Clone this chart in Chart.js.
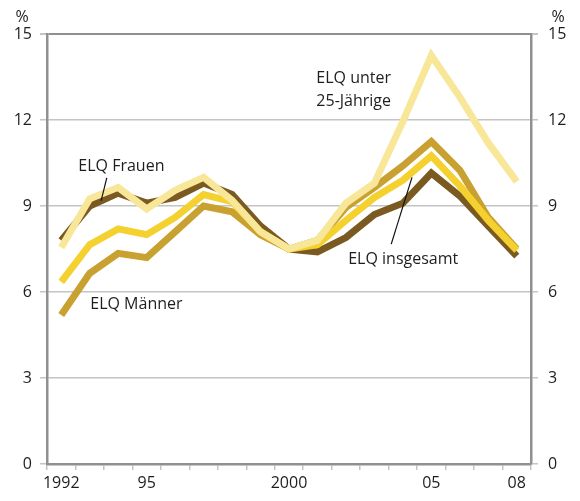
<!DOCTYPE html>
<html>
<head>
<meta charset="utf-8">
<script src="https://cdn.jsdelivr.net/npm/chart.js@4/dist/chart.umd.min.js"></script>
<style>
  html, body { margin:0; padding:0; background:#fff; }
  #wrap { width:580px; height:501px; position:relative; }
</style>
</head>
<body>
<div id="wrap"><canvas id="chart"></canvas></div>
<script>
// Data
const years = ['1992','1993','1994','1995','1996','1997','1998','1999','2000','2001','2002','2003','2004','2005','2006','2007','2008'];
const tickLabels = ['1992','','','95','','','','','2000','','','','','05','','','08'];
const yTicks = [0, 3, 6, 9, 12, 15];

const frauen    = [7.8, 9.0, 9.45, 9.1, 9.3, 9.8, 9.4, 8.3, 7.5, 7.4, 7.9, 8.7, 9.1, 10.15, 9.35, 8.3, 7.25];
const maenner   = [5.2, 6.65, 7.35, 7.2, 8.1, 9.0, 8.8, 8.0, 7.5, 7.8, 8.95, 9.65, 10.4, 11.25, 10.25, 8.6, 7.5];
const insgesamt = [6.35, 7.65, 8.2, 8.0, 8.6, 9.4, 9.15, 8.1, 7.5, 7.65, 8.5, 9.3, 9.9, 10.75, 9.7, 8.5, 7.45];
const unter25   = [7.55, 9.25, 9.65, 8.9, 9.55, 10.0, 9.2, 8.1, 7.5, 7.8, 9.1, 9.8, 11.95, 14.25, 12.8, 11.2, 9.85];

// Labels in data coordinates (x = category index)
const notes = [
    { text:'ELQ Frauen', x:0.6, y:10.39 },
    { text:'ELQ Männer', x:1.02, y:5.55 },
    { text:'ELQ unter', x:8.96, y:13.46 },
    { text:'25-Jährige', x:8.96, y:12.66 },
    { text:'ELQ insgesamt', x:10.08, y:7.15 }
];
const pointers = [
    { x1:1.6, y1:9.98, x2:1.4, y2:9.18 },
    { x1:12.32, y1:10.0, x2:11.59, y2:7.67 }
];

const FONT = '"Open Sans", sans-serif';
const textColor = '#1e1e1e';
const gridColor = '#c4c4c4';
const axisColor = '#909090';

const notesPlugin = {
    id:'notes',
    afterDatasetsDraw(chart) {
        const ctx = chart.ctx;
        const xs = chart.scales.x, ys = chart.scales.y;
        ctx.save();
        ctx.strokeStyle = '#111';
        ctx.lineWidth = 1.2;
        pointers.forEach(p => {
            ctx.beginPath();
            ctx.moveTo(xs.getPixelForValue(p.x1), ys.getPixelForValue(p.y1));
            ctx.lineTo(xs.getPixelForValue(p.x2), ys.getPixelForValue(p.y2));
            ctx.stroke();
        });
        ctx.fillStyle = textColor;
        ctx.font = '16px ' + FONT;
        ctx.textAlign = 'left';
        ctx.textBaseline = 'middle';
        notes.forEach(n => {
            ctx.fillText(n.text, xs.getPixelForValue(n.x), ys.getPixelForValue(n.y));
        });
        // percent signs above both value axes
        ctx.textAlign = 'center';
        ctx.fillText('%', 22, 17);
        ctx.fillText('%', 558, 17);
        ctx.restore();
    }
};

// lower order is drawn on top
function line(label, data, color, order) {
    return {
        label: label,
        data: data,
        order: order,
        borderColor: color,
        backgroundColor: color,
        borderWidth: 7,
        pointRadius: 0,
        tension: 0,
        borderJoinStyle: 'miter',
        borderCapStyle: 'butt',
        fill: false
    };
}

const yScale = (pos) => ({
    type:'linear',
    position: pos,
    min:0, max:15,
    afterBuildTicks: s => { s.ticks = yTicks.map(v => ({ value:v })); },
    afterFit: s => { s.width = pos === 'left' ? 47 : 49; },
    border: { display:true, color:axisColor, width:2.5 },
    grid: {
        display:true,
        drawOnChartArea: pos === 'left',
        color: c => (c.tick && c.tick.value === 15) ? axisColor : gridColor,
        lineWidth: c => (c.tick && c.tick.value === 15) ? 2 : 1.5,
        tickColor: gridColor,
        tickLength: 7
    },
    ticks: {
        color:textColor,
        padding: pos === 'left' ? 8 : 10,
        font:{ family:FONT, size:16 }
    }
});

const chart = new Chart(document.getElementById('chart'), {
    type:'line',
    data:{
        labels: years,
        datasets:[
            line('ELQ Frauen', frauen, '#7b5a21', 4),
            line('ELQ Männer', maenner, '#c8a131', 3),
            line('ELQ insgesamt', insgesamt, '#f4d12f', 2),
            line('ELQ unter 25-Jährige', unter25, '#f8e799', 1)
        ]
    },
    options:{
        responsive:true,
        maintainAspectRatio:false,
        animation:false,
        layout:{ padding:{ top:34, left:0, right:0, bottom:0 } },
        plugins:{ legend:{ display:false }, tooltip:{ enabled:false } },
        scales:{
            x:{
                offset:true,
                afterFit: s => { s.height = 37; },
                border:{ display:true, color:axisColor, width:2.5 },
                grid:{
                    offset:true,
                    drawOnChartArea:false,
                    tickColor:gridColor,
                    tickLength:6,
                    lineWidth:1.5
                },
                ticks:{
                    autoSkip:false,
                    maxRotation:0,
                    padding:4,
                    color:textColor,
                    font:{ family:FONT, size:16 },
                    callback:(v, i) => tickLabels[i]
                }
            },
            y: yScale('left'),
            y2: yScale('right')
        }
    },
    plugins:[notesPlugin]
});
</script>
</body>
</html>
